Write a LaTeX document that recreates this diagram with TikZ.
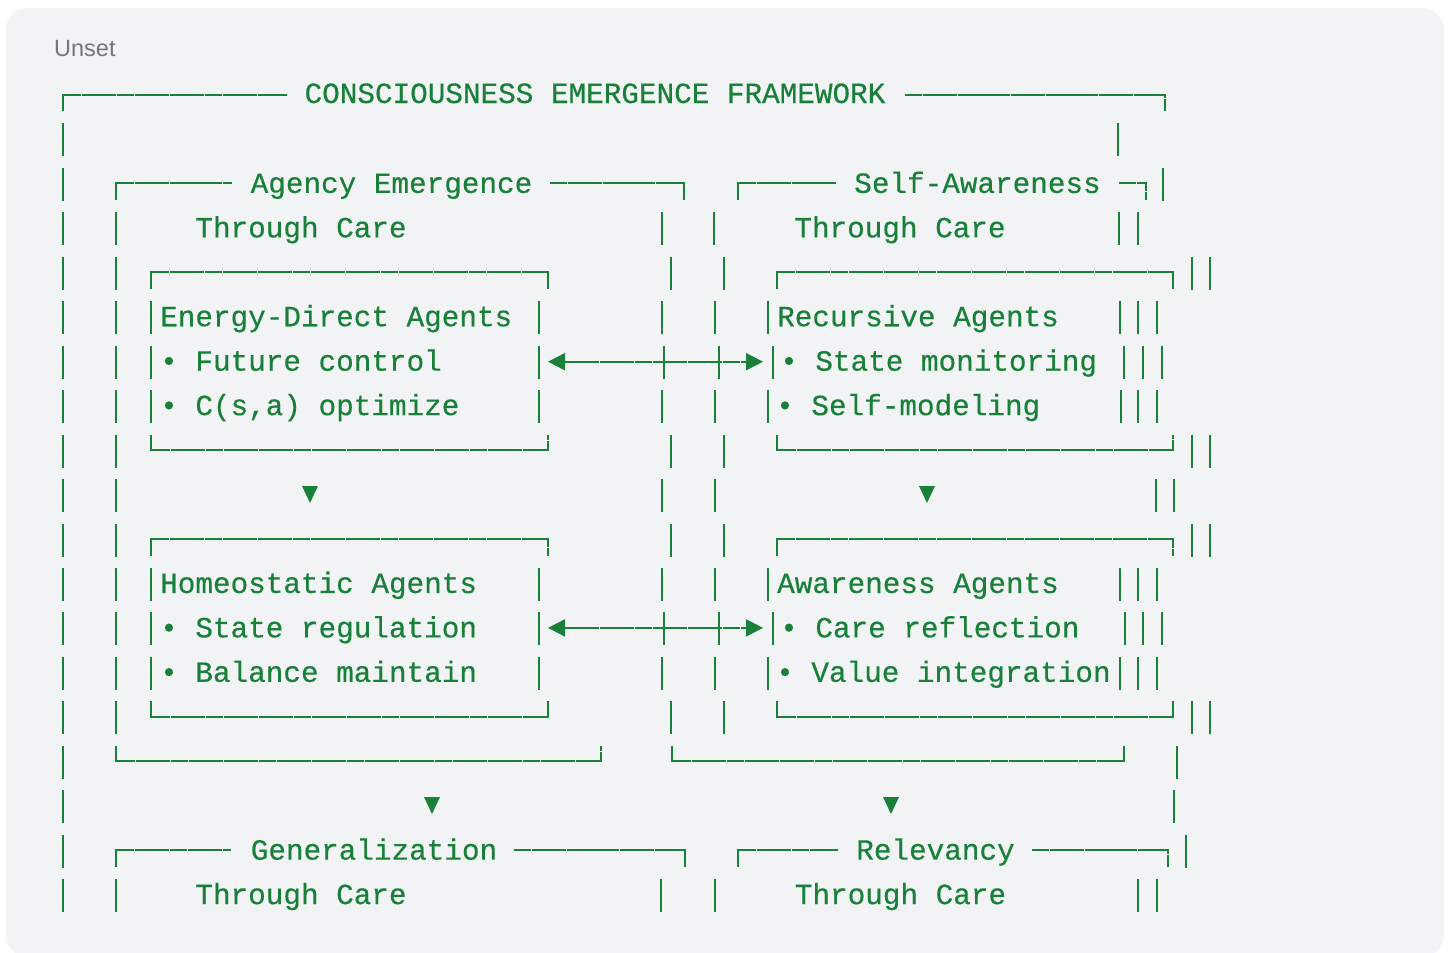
\documentclass[tikz,border=0pt]{standalone}
\usepackage{fontspec}
\usepackage{xcolor}
\usetikzlibrary{arrows.meta}
\newfontfamily\codefont[FakeBold=0.4]{Liberation Mono}
\newfontfamily\labelfont{Liberation Sans}
\definecolor{codegreen}{RGB}{24,128,56}
\definecolor{codebg}{RGB}{241,243,244}
\definecolor{labelgray}{RGB}{117,117,117}
\tikzset{
  asciiline/.style={draw=codegreen, line width=2pt, dash pattern=on 17.1pt off 0.5pt},
  asciibar/.style={draw=codegreen, line width=2pt},
  asciiarrow/.style={{Triangle[length=17pt,width=17pt]}-{Triangle[length=17pt,width=17pt]}, draw=codegreen, line width=2pt, dash pattern=on 17.1pt off 0.5pt},
  asciitext/.style={text=codegreen, font={\codefont\fontsize{29.33pt}{35pt}\selectfont}, inner sep=0pt, anchor=base},
  asciiitem/.style={asciitext, anchor=base west},
  langlabel/.style={text=labelgray, font={\labelfont\fontsize{23.5pt}{28pt}\selectfont}, inner sep=0pt, anchor=base west}
}

\begin{document}
\begin{tikzpicture}[x=1pt,y=-1pt]
\useasboundingbox (0,0) rectangle (1449,953);
\fill[white] (0,0) rectangle (1449,953);
\fill[codebg, rounded corners=22pt] (6,8) rectangle (1444,957);
\node[langlabel] (lang) at (54,56) {Unset};
% box edges
\draw[asciiline] (63,111) -- (63,94.5) -- (287,94.5);
\draw[asciiline] (905,94.5) -- (1165,94.5) -- (1165,111);
\draw[asciiline] (116,200) -- (116,183.4) -- (232,183.4);
\draw[asciiline] (550,183.4) -- (684,183.4) -- (684,200);
\draw[asciiline] (738,200) -- (738,183.4) -- (836,183.4);
\draw[asciiline] (1119,183.4) -- (1146,183.4) -- (1146,200);
\foreach \t/\bt in {272.3/450.1, 539/716.8}
  \foreach \l/\rr in {151/548, 777/1173} {
    \draw[asciiline] (\l,\t+16.5) -- (\l,\t) -- (\rr,\t) -- (\rr,\t+16.5);
    \draw[asciiline] (\l,\bt-15.5) -- (\l,\bt) -- (\rr,\bt) -- (\rr,\bt-15.5);
  }
\draw[asciiline] (116,745.75) -- (116,761.25) -- (601,761.25) -- (601,745.75);
\draw[asciiline] (672,745.75) -- (672,761.25) -- (1124,761.25) -- (1124,745.75);
\draw[asciiline] (116,866.65) -- (116,850.15) -- (231,850.15);
\draw[asciiline] (514,850.15) -- (685,850.15) -- (685,866.65);
\draw[asciiline] (738,866.65) -- (738,850.15) -- (838,850.15);
\draw[asciiline] (1032,850.15) -- (1168,850.15) -- (1168,866.65);
% vertical bars, row by row
\foreach \r/\xs in {1/{63,1118}, 2/{63,1163}, 3/{63,116,662,714,1119,1138},
    4/{63,116,671,724,1192,1210}, 5/{63,116,151,539,662,715,768,1120,1138,1157},
    6/{63,116,151,539,664,719,773,1124,1143,1162}, 7/{63,116,151,539,662,715,768,1121,1138,1157},
    8/{63,116,671,724,1192,1210}, 9/{63,116,662,715,1156,1174}, 10/{63,116,671,724,1192,1210},
    11/{63,116,151,539,662,715,768,1120,1138,1157}, 12/{63,116,151,539,664,719,773,1125,1143,1162},
    13/{63,116,151,539,662,715,768,1120,1138,1157}, 14/{63,116,671,724,1192,1210},
    15/{63,1177}, 16/{63,1174}, 17/{63,1186}, 18/{63,116,661,715,1138,1157}}
  \foreach \x in \xs
    \draw[asciibar] (\x,{104+44.45*\r-25}) -- ++(0,33);
% down markers
\foreach \x/\y in {310/486, 927/486, 432/797, 891/797}
  \fill[codegreen] (\x-8,\y) -- (\x+8,\y) -- (\x,\y+17) -- cycle;
% texts
\node[asciitext] (title) at (595,103) {CONSCIOUSNESS EMERGENCE FRAMEWORK};
\node[asciitext] (agency) at (391.5,192.9) {Agency Emergence};
\node[asciitext] (agencycare) at (301,237.35) {Through Care};
\node[asciitext] (selfaware) at (977.5,192.9) {Self-Awareness};
\node[asciitext] (selfcare) at (900,237.35) {Through Care};
\node[asciiitem] (energy) at (160,326.25) {Energy-Direct Agents};
\node[asciiitem] (energyA) at (160,370.7) {• Future control};
\node[asciiitem] (energyB) at (160,415.15) {• C(s,a) optimize};
\node[asciiitem] (recursive) at (777,326.25) {Recursive Agents};
\node[asciiitem] (recursiveA) at (780,370.7) {• State monitoring};
\node[asciiitem] (recursiveB) at (776,415.15) {• Self-modeling};
\node[asciiitem] (homeo) at (160,592.95) {Homeostatic Agents};
\node[asciiitem] (homeoA) at (160,637.4) {• State regulation};
\node[asciiitem] (homeoB) at (160,681.85) {• Balance maintain};
\node[asciiitem] (aware) at (777,592.95) {Awareness Agents};
\node[asciiitem] (awareA) at (780,637.4) {• Care reflection};
\node[asciiitem] (awareB) at (776,681.85) {• Value integration};
\node[asciitext] (general) at (374,859.65) {Generalization};
\node[asciitext] (generalcare) at (301,904.1) {Through Care};
\node[asciitext] (relevancy) at (935.5,859.65) {Relevancy};
\node[asciitext] (relevancycare) at (900.5,904.1) {Through Care};
% links between the agent boxes
\coordinate (energyE) at (548,361.7);
\coordinate (recursiveW) at (763,361.7);
\coordinate (homeoE) at (548,627.9);
\coordinate (awareW) at (763,627.9);
\draw[asciiarrow] (energyE) -- (recursiveW);
\draw[asciiarrow] (homeoE) -- (awareW);
\end{tikzpicture}
\end{document}
